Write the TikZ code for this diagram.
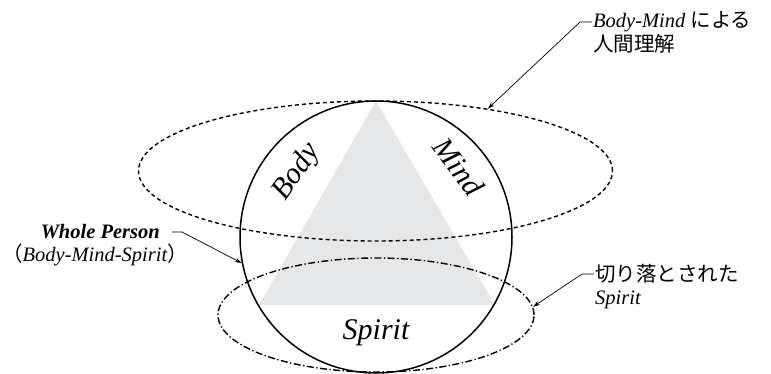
\documentclass[tikz,border=0pt]{standalone}
\usepackage{fontspec}
\setmainfont{Liberation Serif}
\newfontfamily\jp{Noto Sans CJK JP}
\usetikzlibrary{shapes.geometric,arrows.meta}
\definecolor{trigray}{HTML}{E6E7E8}
\begin{document}
\begin{tikzpicture}[x=1pt,y=-1pt,
  lbl/.style={inner sep=1pt, font=\fontsize{20.5}{24}\selectfont},
  big/.style={font=\fontsize{30}{34}\selectfont\itshape, inner sep=0pt},
  lead/.style={line width=0.7pt, -{Stealth[length=7pt,width=4.5pt]}},
  dotline/.style={line width=1.4pt, dash pattern=on 4pt off 3pt},
  dashdotline/.style={line width=1.4pt, dash pattern=on 7pt off 2.5pt on 1.3pt off 2.5pt},
]
\useasboundingbox (0,0) rectangle (771,374);
% triangle
\coordinate (apex) at (376,101);
\coordinate (bl) at (259,305);
\coordinate (br) at (495,305);
\fill[trigray] (apex) -- (bl) -- (br) -- cycle;
% shapes
\node[circle, draw, line width=1.5pt, minimum size=272pt, inner sep=0pt] (whole) at (376,237) {};
\node[ellipse, draw, dotline, minimum width=474pt, minimum height=140pt, inner sep=0pt] (bm) at (375.5,171) {};
\node[ellipse, draw, dashdotline, minimum width=316pt, minimum height=114pt, inner sep=0pt] (cut) at (376,315) {};
% inner labels
\node[big, rotate=55] (body) at (297,172) {Body};
\node[big, rotate=-53] (mind) at (459,167) {Mind};
\node[big] (spirit) at (376,333) {Spirit};
% labels with leaders
\node[lbl, anchor=west] (bm1) at (592,22) {\itshape Body-Mind\ {\upshape\jp による}};
\node[lbl, anchor=west] (bm2) at (592,44) {\jp 人間理解};
\draw[lead] (bm1.west) -- ++(-12,0) -- (bm.29.5);
\node[lbl, anchor=east] (wp1) at (161,232) {\bfseries\itshape Whole Person};
\node[lbl] (wp2) at (95,255) {{\jp （}\itshape Body-Mind-Spirit{\upshape\jp ）}};
\draw[lead] ([xshift=11pt]wp1.east) -- ++(10,0) -- (whole.191);
\node[lbl, anchor=west] (cs1) at (594,274) {\jp 切り落とされた};
\node[lbl, anchor=west] (cs2) at (594,300) {\itshape Spirit};
\draw[lead] (cs1.west) -- ++(-12,0) -- (cut.3);
\end{tikzpicture}
\end{document}
